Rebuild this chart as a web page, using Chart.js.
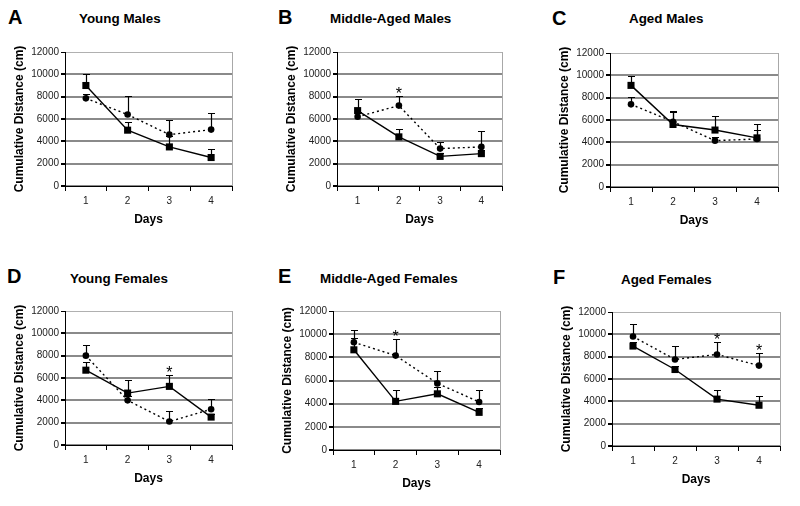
<!DOCTYPE html>
<html><head><meta charset="utf-8">
<script src="https://cdn.jsdelivr.net/npm/chart.js@4.4.1/dist/chart.umd.min.js"></script>
<style>
html,body{margin:0;padding:0;background:#fff;}
#wrap{position:relative;width:800px;height:506px;overflow:hidden;font-family:'Liberation Sans',Arial,sans-serif;background:#fff;}
.letter{position:absolute;font-weight:bold;font-size:20px;line-height:20px;color:#000;}
.title{position:absolute;font-weight:bold;font-size:13.4px;line-height:13px;color:#000;white-space:nowrap;}
canvas{position:absolute;}
</style></head><body><div id="wrap"></div>
<script>
// ---- data ----
const days = ['1', '2', '3', '4'];
const yTickLabels = ['0', '2000', '4000', '6000', '8000', '10000', '12000'];
const panelLetters = ['A', 'B', 'C', 'D', 'E', 'F'];
const panelTitles = ['Young Males', 'Middle-Aged Males', 'Aged Males', 'Young Females', 'Middle-Aged Females', 'Aged Females'];
const yAxisTitle = 'Cumulative Distance (cm)';
const xAxisTitle = 'Days';

const aSolid = [9000, 5000, 3500, 2550];
const aSolidErr = [1060, 750, 1000, 730];
const aDotted = [7850, 6400, 4600, 5050];
const aDottedErr = [400, 1630, 1320, 1500];
const aStars = [false, false, false, false];

const bSolid = [6750, 4400, 2650, 2900];
const bSolidErr = [1070, 700, 300, 300];
const bDotted = [6200, 7200, 3350, 3500];
const bDottedErr = [400, 860, 620, 1450];
const bStars = [false, true, false, false];

const cSolid = [9100, 5600, 5100, 4400];
const cSolidErr = [870, 1200, 1230, 1250];
const cDotted = [7400, 5850, 4150, 4300];
const cDottedErr = [700, 900, 300, 800];
const cStars = [false, false, false, false];

const dSolid = [6700, 4650, 5250, 2500];
const dSolidErr = [750, 1200, 1000, 300];
const dDotted = [8000, 4000, 2100, 3200];
const dDottedErr = [980, 400, 970, 950];
const dStars = [false, false, true, false];

const eSolid = [8650, 4200, 4850, 3250];
const eSolidErr = [1050, 1000, 600, 400];
const eDotted = [9300, 8150, 5750, 4150];
const eDottedErr = [1075, 1400, 1030, 1050];
const eStars = [false, true, false, false];

const fSolid = [8950, 6850, 4200, 3650];
const fSolidErr = [400, 300, 820, 830];
const fDotted = [9800, 7750, 8200, 7200];
const fDottedErr = [1130, 1180, 1080, 1100];
const fStars = [false, false, true, true];

// ---- layout (positions only) ----
const plotBoxes = [ // left, right, top, bottom of plot area
  [65, 232, 52, 186], [337, 502, 52, 186], [610, 778, 53, 187],
  [65, 232, 311, 445], [333, 500, 311, 450], [612, 780, 312, 446]
];
const letterPos = [[8, 7], [278, 7], [552, 8], [7, 266], [278, 266], [553, 267]];
const titlePos = [[79, 12], [330, 12], [629, 12], [70, 272], [320, 272], [621, 273]];

const panels = [
  {solid: aSolid, solidErr: aSolidErr, dotted: aDotted, dottedErr: aDottedErr, stars: aStars},
  {solid: bSolid, solidErr: bSolidErr, dotted: bDotted, dottedErr: bDottedErr, stars: bStars},
  {solid: cSolid, solidErr: cSolidErr, dotted: cDotted, dottedErr: cDottedErr, stars: cStars},
  {solid: dSolid, solidErr: dSolidErr, dotted: dDotted, dottedErr: dDottedErr, stars: dStars},
  {solid: eSolid, solidErr: eSolidErr, dotted: eDotted, dottedErr: eDottedErr, stars: eStars},
  {solid: fSolid, solidErr: fSolidErr, dotted: fDotted, dottedErr: fDottedErr, stars: fStars}
];

const FONT = "'Liberation Sans', Arial, sans-serif";
Chart.defaults.font.family = FONT;
const Y_W = 53, X_H = 41, PAD_T = 10, PAD_R = 8, PAD_B = 2;
const wrap = document.getElementById('wrap');

panels.forEach((p, idx) => {
  const lt = document.createElement('div');
  lt.className = 'letter'; lt.textContent = panelLetters[idx];
  lt.style.left = letterPos[idx][0] + 'px'; lt.style.top = letterPos[idx][1] + 'px';
  wrap.appendChild(lt);
  const tt = document.createElement('div');
  tt.className = 'title'; tt.textContent = panelTitles[idx];
  tt.style.left = titlePos[idx][0] + 'px'; tt.style.top = titlePos[idx][1] + 'px';
  wrap.appendChild(tt);

  const [l, r, t, b] = plotBoxes[idx];
  const w = Y_W + (r - l) + PAD_R, h = PAD_T + (b - t) + X_H + PAD_B;
  const cv = document.createElement('canvas');
  cv.width = w; cv.height = h;
  cv.style.width = w + 'px'; cv.style.height = h + 'px';
  cv.style.left = (l - Y_W) + 'px'; cv.style.top = (t - PAD_T) + 'px';
  wrap.appendChild(cv);

  const extras = {
    id: 'extras' + idx,
    beforeDatasetsDraw(chart) {
      const ctx = chart.ctx, a = chart.chartArea;
      ctx.save();
      ctx.strokeStyle = '#a8a8a8'; ctx.lineWidth = 1;
      ctx.beginPath();
      ctx.moveTo(Math.round(a.right) + 0.5, a.top);
      ctx.lineTo(Math.round(a.right) + 0.5, a.bottom);
      ctx.stroke();
      ctx.restore();
    },
    afterDatasetsDraw(chart) {
      const ctx = chart.ctx, xs = chart.scales.x, ys = chart.scales.y;
      ctx.save();
      ctx.strokeStyle = '#000'; ctx.lineWidth = 1.2;
      chart.data.datasets.forEach(ds => {
        ds.data.forEach((v, i) => {
          const x = Math.round(xs.getPixelForValue(i)) + 0.5;
          const y0 = ys.getPixelForValue(v);
          const y1 = Math.round(ys.getPixelForValue(v + ds.err[i])) + 0.5;
          ctx.beginPath();
          ctx.moveTo(x, y0); ctx.lineTo(x, y1);
          ctx.moveTo(x - 3.5, y1); ctx.lineTo(x + 3.5, y1);
          ctx.stroke();
        });
      });
      ctx.fillStyle = '#000';
      ctx.font = '16px ' + FONT;
      ctx.textAlign = 'center'; ctx.textBaseline = 'alphabetic';
      p.stars.forEach((s, i) => {
        if (!s) return;
        const top = Math.max(p.solid[i] + p.solidErr[i], p.dotted[i] + p.dottedErr[i]);
        const x = xs.getPixelForValue(i);
        const y = ys.getPixelForValue(top) + 3;
        ctx.fillText('*', x, y);
      });
      ctx.restore();
    }
  };

  new Chart(cv, {
    type: 'line',
    data: {
      labels: days,
      datasets: [
        {data: p.solid, err: p.solidErr, borderColor: '#000', backgroundColor: '#000', borderWidth: 1.4,
         pointStyle: 'rect', pointRadius: 5, pointBorderWidth: 0, pointBackgroundColor: '#000', tension: 0},
        {data: p.dotted, err: p.dottedErr, borderColor: '#000', backgroundColor: '#000', borderWidth: 1.4,
         borderDash: [2, 3], pointStyle: 'circle', pointRadius: 3.3, pointBorderWidth: 0, pointBackgroundColor: '#000', tension: 0}
      ]
    },
    options: {
      responsive: false, animation: false, devicePixelRatio: 1,
      layout: {padding: {top: PAD_T, right: PAD_R, bottom: PAD_B, left: 0}},
      plugins: {legend: {display: false}, tooltip: {enabled: false}},
      scales: {
        x: {
          type: 'category', offset: true,
          grid: {offset: true, drawOnChartArea: false, color: '#000', tickLength: 5, lineWidth: 1},
          border: {color: '#000', width: 1},
          ticks: {font: {size: 10}, color: '#222', padding: 4, maxRotation: 0},
          title: {display: true, text: xAxisTitle, font: {size: 12, weight: 'bold'}, color: '#000', padding: 0},
          afterFit: s => { s.height = X_H; }
        },
        y: {
          min: 0, max: 12000,
          ticks: {stepSize: 2000, callback: (v, i) => yTickLabels[i], font: {size: 10}, color: '#222', padding: 2},
          grid: {
            color: c => (c.tick && c.tick.value === 12000) ? '#b0b0b0' : '#8a8a8a',
            lineWidth: c => (c.tick && c.tick.value === 12000) ? 1 : 2,
            tickColor: '#000', tickLength: 4
          },
          border: {color: '#000', width: 1},
          title: {display: true, text: yAxisTitle, font: {size: 12, weight: 'bold'}, color: '#000', padding: 0},
          afterFit: s => { s.width = Y_W; }
        }
      }
    },
    plugins: [extras]
  });
});
</script>
</body></html>
